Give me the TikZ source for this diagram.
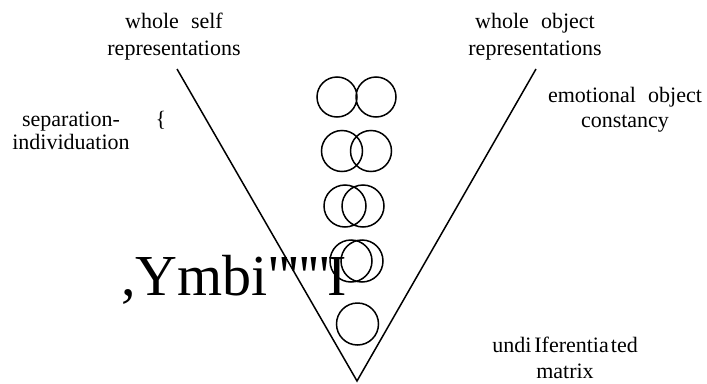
\documentclass[tikz,border=0pt]{standalone}
\usepackage{fontspec}
\setmainfont{Liberation Serif}
\newfontfamily\plainserif{Liberation Serif}[Ligatures=TeXOff]
\begin{document}
\begin{tikzpicture}[x=1pt,y=-1pt,
  lbl/.style={align=center, inner sep=0pt, font=\fontsize{22}{27}\selectfont},
  vline/.style={line width=1.5pt, line join=miter},
  ring/.style={line width=1.5pt}]
\useasboundingbox (0,0) rectangle (707,383);
\newcommand{\wgap}{\hspace{0.55em}}
% labels
\node[lbl] (selfrep) at (174,36.4) {whole\wgap self\\representations};
\node[lbl] (objrep) at (535,36.4) {whole\wgap object\\representations};
\node[lbl, font=\fontsize{22}{25}\selectfont] (constancy) at (625,109.4) {emotional\wgap object\\constancy};
\node[lbl, font=\fontsize{22}{22.5}\selectfont] (sepind) at (71,131) {separation-\\individuation};
\node[lbl] (brace) at (161,120) {\{};
\node[lbl, font=\fontsize{22}{26}\selectfont] (matrix) at (565,357.5) {undi\hspace{3pt}Iferentia\hspace{2pt}ted\\matrix};
\node[anchor=base west, inner sep=0pt, font=\plainserif\fontsize{58}{60}\selectfont] (ambi) at (121,295) {,Ymbi"\kern-4pt"\kern-4pt"\kern-3pt I};
% V
\coordinate (vl) at (177,69);
\coordinate (vb) at (357,381);
\coordinate (vr) at (536,69);
\draw[vline] (vl) -- (vb) -- (vr);
% circles
\draw[ring] (337,97) circle (20) (376,97) circle (20);
\draw[ring] (342,151) circle (20.5) (371,151) circle (20.5);
\draw[ring] (345,206) circle (21) (363,206) circle (21);
\draw[ring] (351,261) circle (21) (362,261) circle (21);
\draw[ring] (357.5,324) circle (21);
\end{tikzpicture}
\end{document}
